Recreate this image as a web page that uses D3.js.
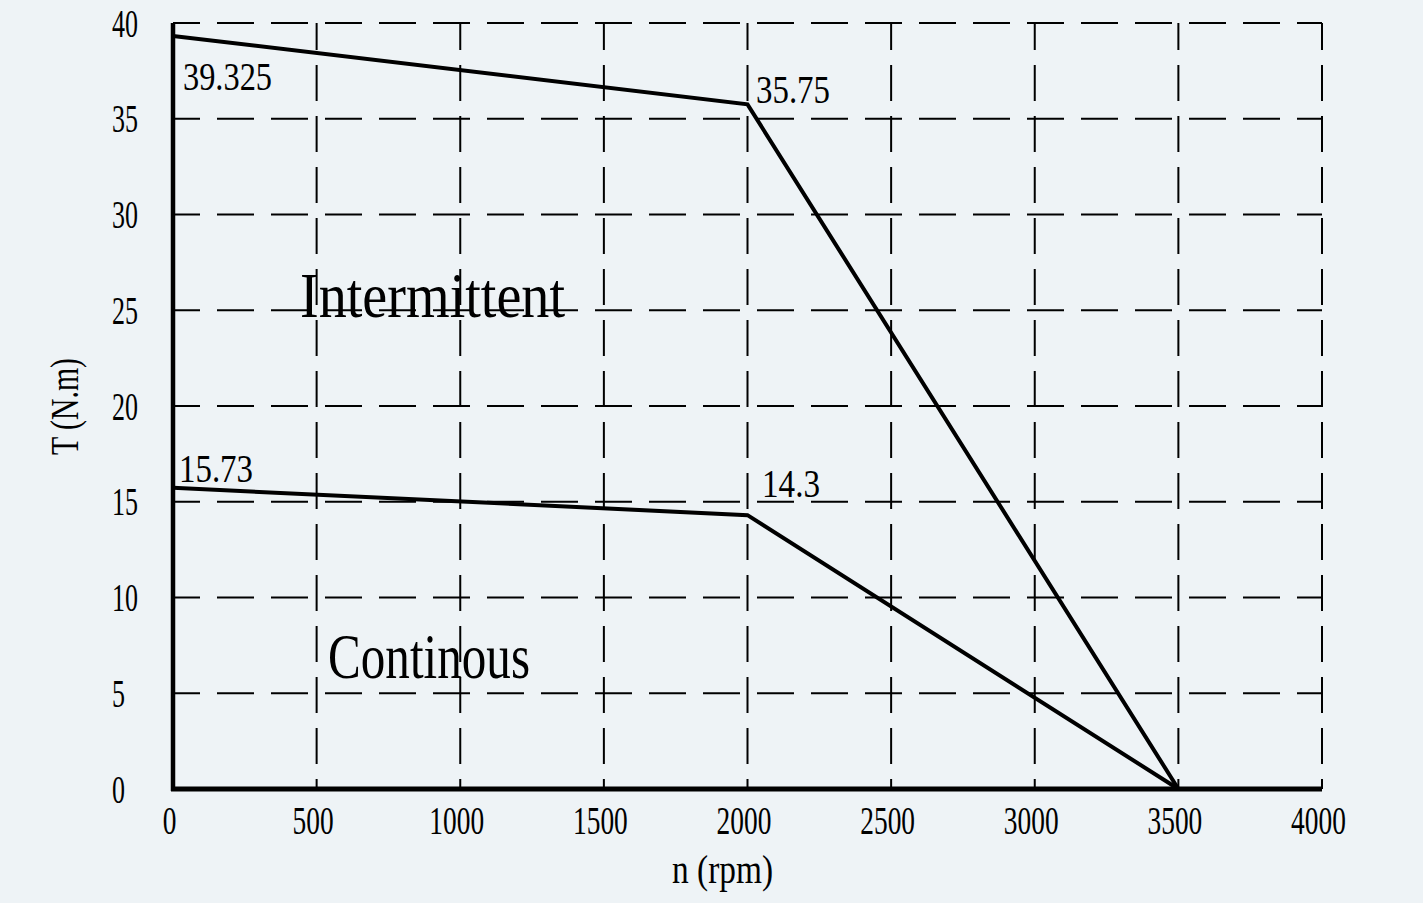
<!DOCTYPE html>
<html>
<head>
<meta charset="utf-8">
<script src="https://cdn.jsdelivr.net/npm/d3@7"></script>
<style>
  body { margin: 0; background: #eef3f6; }
  text { font-family: "Liberation Serif", serif; fill: #000; }
</style>
</head>
<body>
<div id="chart"></div>
<script>
// speed (rpm) vs torque (N.m)
var speeds = [0, 2000, 3500];
var intermittent = [39.325, 35.75, 0];
var continuous = [15.73, 14.3, 0];
var xTicks = [0, 500, 1000, 1500, 2000, 2500, 3000, 3500, 4000];
var yTicks = [0, 5, 10, 15, 20, 25, 30, 35, 40];

var W = 1423, H = 903;
var margin = {top: 23, right: 101, bottom: 114, left: 173},
    width = W - margin.left - margin.right,
    height = H - margin.top - margin.bottom;

var svg = d3.select("#chart")
  .append("svg")
  .attr("width", W)
  .attr("height", H)
  .style("background", "#eef3f6")
  .append("g")
  .attr("transform", "translate(" + margin.left + "," + margin.top + ")");

var x = d3.scaleLinear().domain([0, 4000]).range([0, width]);
var y = d3.scaleLinear().domain([0, 40]).range([height, 0]);

// dashed grid
svg.append("g")
  .selectAll("line.h")
  .data(yTicks.filter(function(d) { return d > 0; }))
  .enter().append("line")
    .attr("x1", 0).attr("x2", x(4000))
    .attr("y1", function(d) { return y(d); })
    .attr("y2", function(d) { return y(d); })
    .style("stroke", "#000")
    .style("stroke-width", 2)
    .style("stroke-dasharray", "37,17")
    .style("stroke-dashoffset", 10);

svg.append("g")
  .selectAll("line.v")
  .data(xTicks.filter(function(d) { return d > 0; }))
  .enter().append("line")
    .attr("y1", y(40)).attr("y2", y(0))
    .attr("x1", function(d) { return x(d); })
    .attr("x2", function(d) { return x(d); })
    .style("stroke", "#000")
    .style("stroke-width", 2)
    .style("stroke-dasharray", "36,15")
    .style("stroke-dashoffset", 9);

// axes lines
svg.append("line")
  .attr("x1", x(0)).attr("x2", x(0))
  .attr("y1", y(0) + 2).attr("y2", y(40))
  .style("stroke", "#000").style("stroke-width", 4.5);
svg.append("line")
  .attr("x1", x(0) - 2).attr("x2", x(4000))
  .attr("y1", y(0)).attr("y2", y(0))
  .style("stroke", "#000").style("stroke-width", 5);

// tick labels
var xAxis = svg.append("g")
  .attr("transform", "translate(0," + height + ")")
  .call(d3.axisBottom(x).tickValues(xTicks).tickSize(0).tickFormat(d3.format("d")));
xAxis.select(".domain").remove();
xAxis.selectAll("text")
  .attr("y", 45)
  .attr("dy", 0)
  .attr("dx", -4)
  .style("font-size", "41px")
  .attr("textLength", function(d) { return String(d).length * 13.7; })
  .attr("lengthAdjust", "spacingAndGlyphs");

var yAxis = svg.append("g")
  .call(d3.axisLeft(y).tickValues(yTicks).tickSize(0));
yAxis.select(".domain").remove();
yAxis.selectAll("text")
  .attr("text-anchor", "start")
  .attr("x", 112 - margin.left)
  .attr("dy", 13)
  .style("font-size", "41px")
  .attr("textLength", function(d) { return String(d).length * 13; })
  .attr("lengthAdjust", "spacingAndGlyphs");

// curves
var line = d3.line()
  .x(function(d) { return x(d[0]); })
  .y(function(d) { return y(d[1]); });

[intermittent, continuous].forEach(function(vals) {
  svg.append("path")
    .datum(speeds.map(function(s, i) { return [s, vals[i]]; }))
    .attr("d", line)
    .style("fill", "none")
    .style("stroke", "#000")
    .style("stroke-width", 4)
    .style("stroke-linejoin", "miter");
});

// point labels
function label(txt, px, py, len, size) {
  svg.append("text")
    .attr("x", px - margin.left)
    .attr("y", py - margin.top)
    .style("font-size", size + "px")
    .attr("textLength", len)
    .attr("lengthAdjust", "spacingAndGlyphs")
    .text(txt);
}
label("39.325", 183, 90, 89, 40);
label("35.75", 756, 103, 74, 40);
label("15.73", 179, 482, 74, 40);
label("14.3", 762, 497, 58, 40);

label("Intermittent", 300, 317, 265, 63);
label("Continous", 328, 678, 202, 63);

// axis titles
label("n (rpm)", 672, 883, 101, 40);
svg.append("text")
  .attr("transform", "translate(" + (78 - margin.left) + "," + (455 - margin.top) + ") rotate(-90)")
  .style("font-size", "40px")
  .attr("textLength", 97)
  .attr("lengthAdjust", "spacingAndGlyphs")
  .text("T (N.m)");
</script>
</body>
</html>
